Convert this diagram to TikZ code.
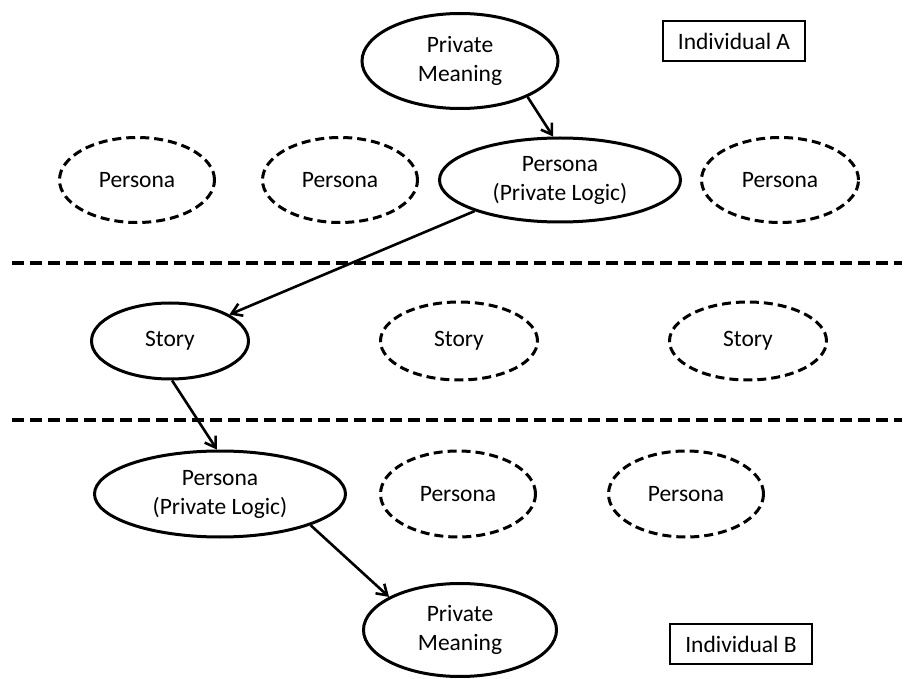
\documentclass[tikz,border=0pt]{standalone}
\usepackage{fontspec}
\setmainfont{Carlito}
\usetikzlibrary{shapes.geometric,arrows.meta}
\begin{document}
\begin{tikzpicture}[x=1pt,y=-1pt,
  every node/.style={font=\fontsize{23.5}{29}\selectfont, align=center, inner sep=0pt},
  solidell/.style={ellipse, draw, line width=3pt},
  dashell/.style={ellipse, draw, line width=3pt, dash pattern=on 9pt off 5pt},
  labelbox/.style={rectangle, draw, line width=2.2pt, minimum width=142pt, minimum height=40pt},
  conn/.style={line width=2.6pt, -{Straight Barb[length=10pt,width=13pt]}},
  sepline/.style={line width=3.4pt, dash pattern=on 12pt off 6pt}]
\useasboundingbox (0,0) rectangle (906,679);

% top individual
\node[solidell, minimum width=196pt, minimum height=95pt] (pm1) at (460,61) {Private\\Meaning};
\node[labelbox] (indA) at (734,41) {Individual A};
\node[dashell, minimum width=155pt, minimum height=85pt] (pa1) at (137,180) {Persona};
\node[dashell, minimum width=155pt, minimum height=85pt] (pa2) at (340,180) {Persona};
\node[solidell, minimum width=241pt, minimum height=84pt] (ppl1) at (560,180) {Persona\\(Private Logic)};
\node[dashell, minimum width=157pt, minimum height=85pt] (pa3) at (780,180) {Persona};

% separators
\coordinate (s1l) at (12,263);
\coordinate (s1r) at (902,263);
\coordinate (s2l) at (12,420);
\coordinate (s2r) at (902,420);
\draw[sepline] (s1l) -- (s1r);
\draw[sepline] (s2l) -- (s2r);

% stories
\node[solidell, minimum width=157pt, minimum height=76pt] (st1) at (170,341) {Story};
\node[dashell, minimum width=157pt, minimum height=78pt] (st2) at (459,341) {Story};
\node[dashell, minimum width=157pt, minimum height=78pt] (st3) at (748,341) {Story};

% bottom individual
\node[solidell, minimum width=251pt, minimum height=86pt] (ppl2) at (220,494) {Persona\\(Private Logic)};
\node[dashell, minimum width=155pt, minimum height=86pt] (pb2) at (458,494) {Persona};
\node[dashell, minimum width=155pt, minimum height=86pt] (pb3) at (686,494) {Persona};
\node[solidell, minimum width=193pt, minimum height=93pt] (pm2) at (460,630) {Private\\Meaning};
\node[labelbox] (indB) at (741,644) {Individual B};

% connectors
\draw[conn] (pm1.-28) -- (ppl1.99);
\draw[conn] (ppl1.200) -- (st1.24);
\draw[conn] (st1.-87) -- (ppl2.94);
\draw[conn] (ppl2.-19) -- (pm2.155);
\end{tikzpicture}
\end{document}
